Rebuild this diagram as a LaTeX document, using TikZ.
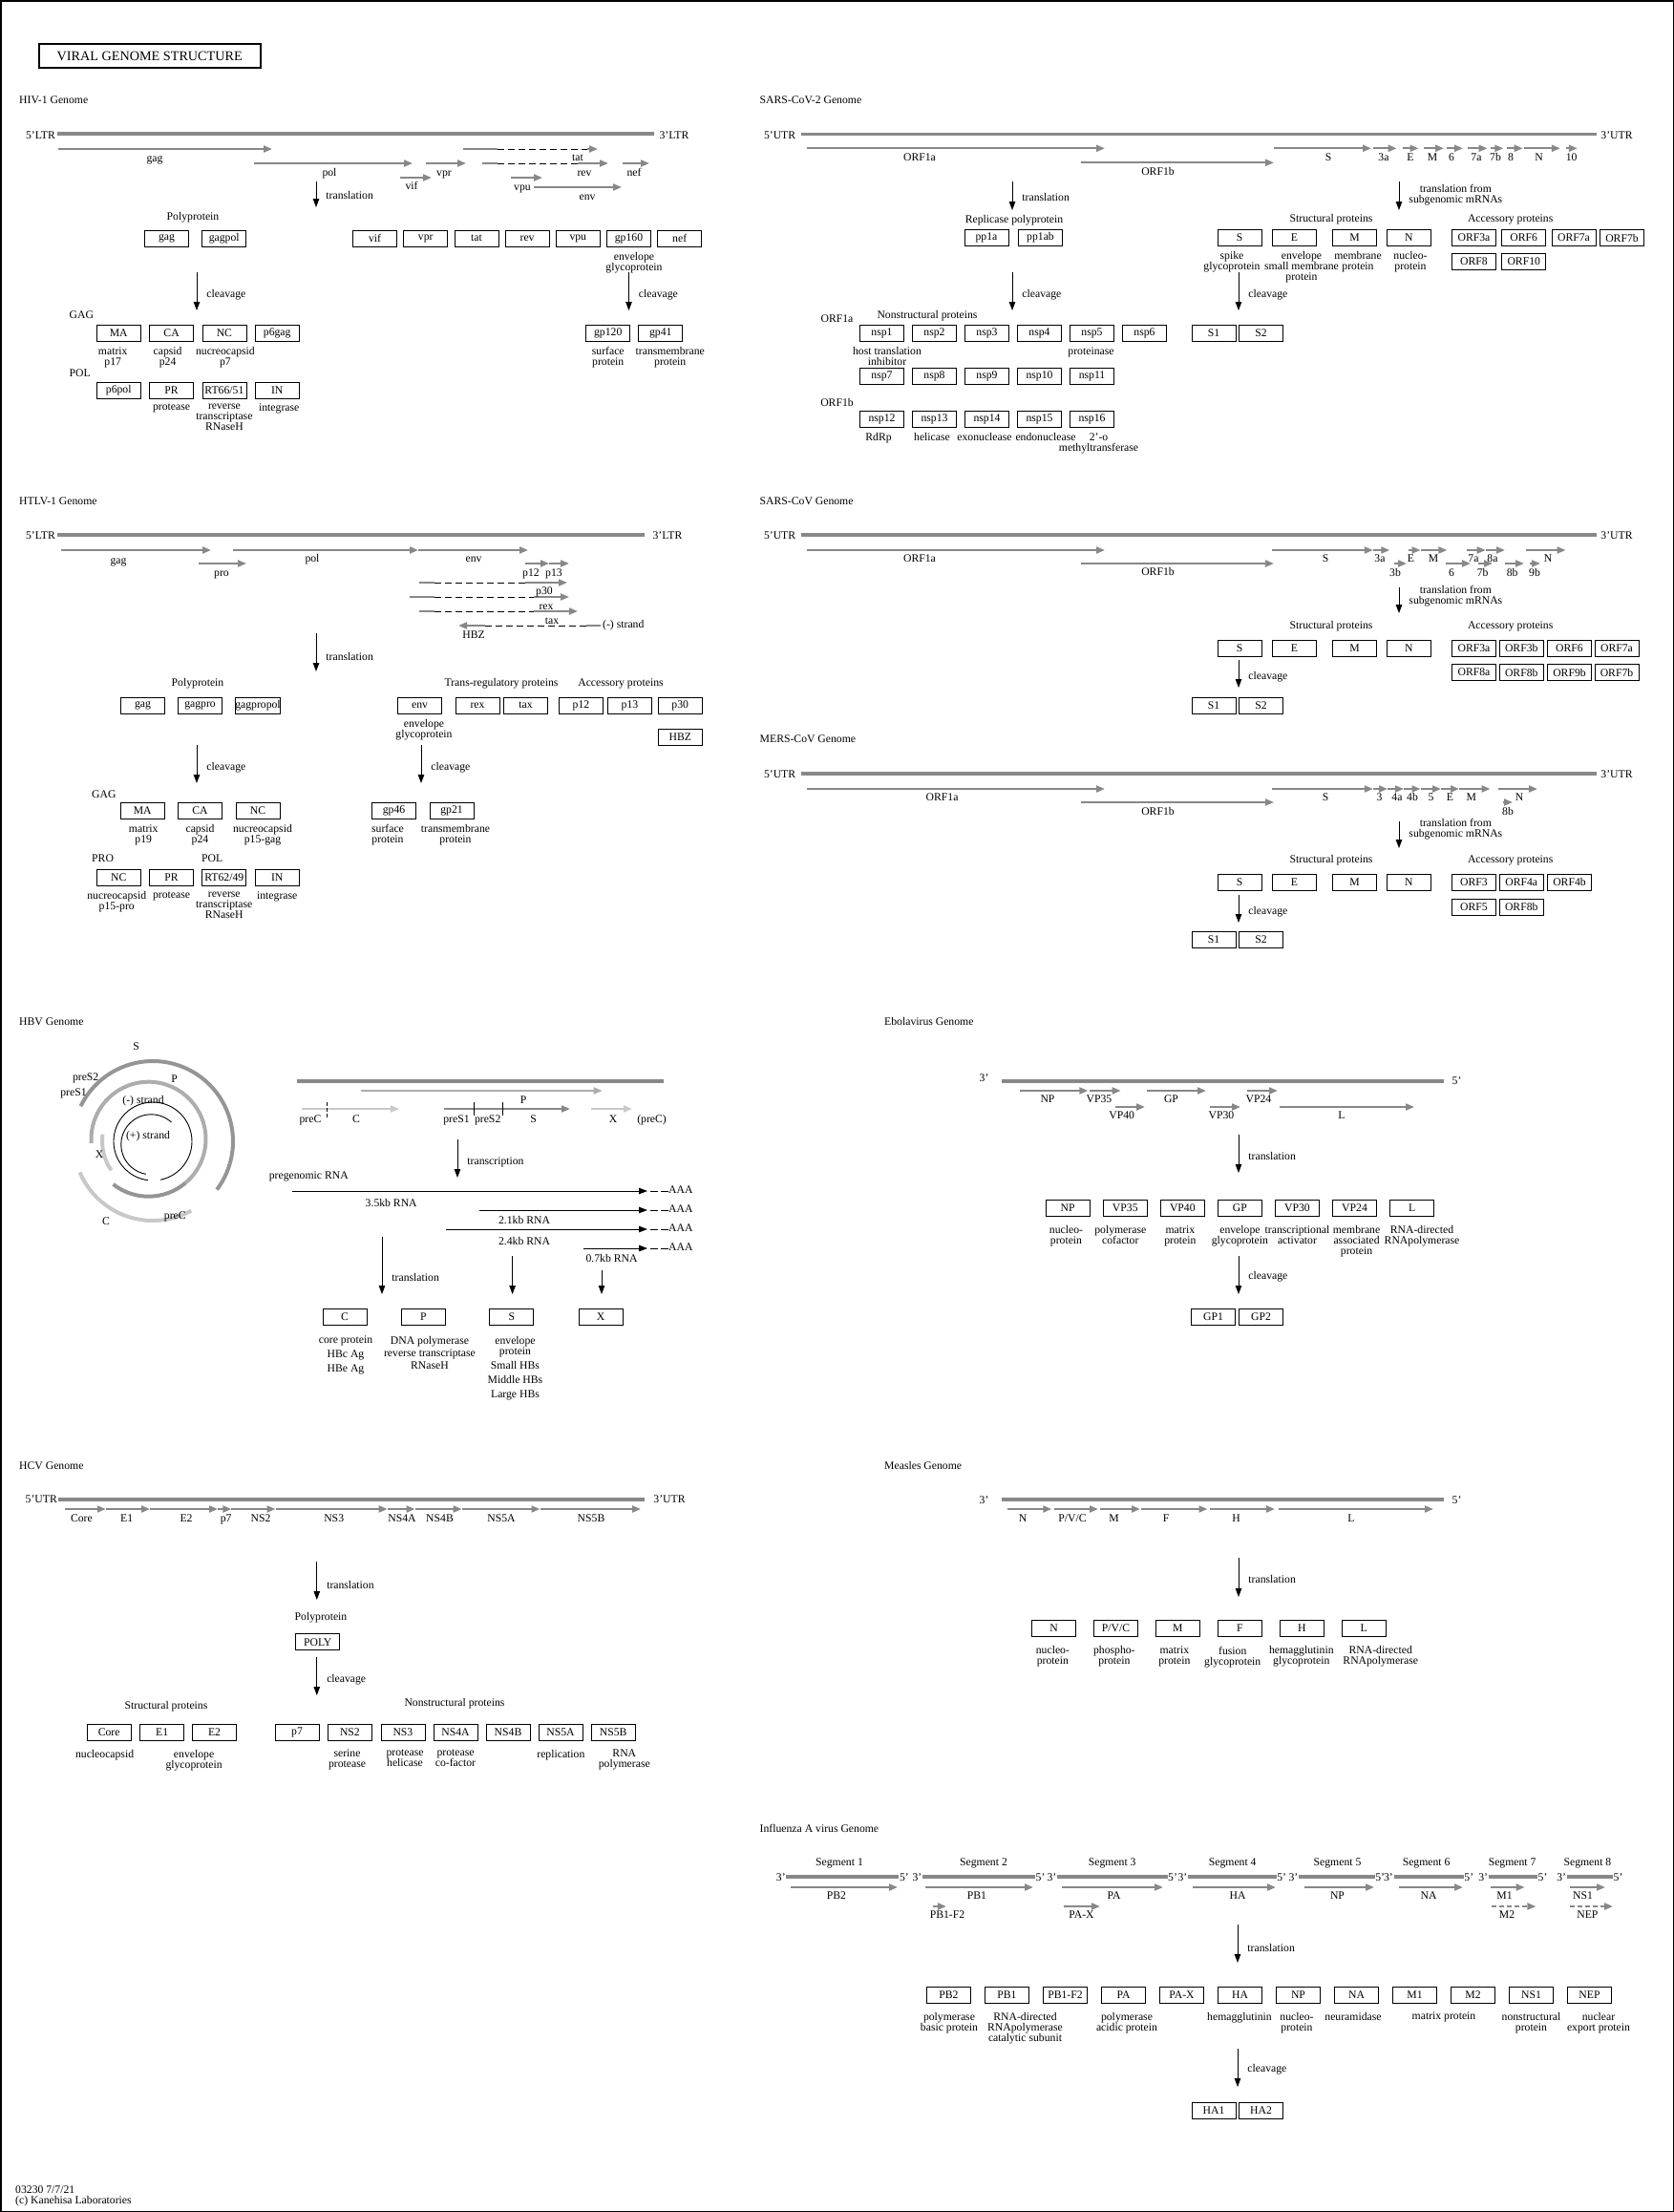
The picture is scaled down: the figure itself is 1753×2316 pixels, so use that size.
\documentclass[tikz,border=0pt]{standalone}
\usepackage{fontspec}
\setmainfont{Liberation Serif}
\usepackage{tikz}
\usetikzlibrary{arrows.meta,positioning,calc}
\definecolor{genc}{HTML}{888888}
\definecolor{lightc}{HTML}{C8C8C8}
\definecolor{midc}{HTML}{ADADAD}
\definecolor{darkc}{HTML}{959595}
\tikzset{
  >={Triangle[length=9pt,width=6.5pt]},
  genome/.style={draw=genc,line width=3.5pt},
  orf/.style={draw=genc,line width=2pt,-{Triangle[length=9pt,width=7pt]}},
  orfbar/.style={draw=genc,line width=2pt},
  orfdash/.style={orf,dash pattern=on 5pt off 3pt},
  splice/.style={draw=black,line width=0.9pt,dash pattern=on 7pt off 4pt},
  prot/.style={draw=black,line width=0.8pt,minimum width=46pt,minimum height=17pt,inner sep=0pt},
  flow/.style={->,line width=0.9pt},
  polya/.style={line width=0.9pt,dash pattern=on 8pt off 3pt},
  tag/.style={inner sep=0pt,text height=8pt,text depth=2.5pt},
  gtitle/.style={tag,anchor=west},
  desc/.style={inner sep=0pt,align=center},
  fl/.style={inner sep=0pt,anchor=west,xshift=10pt,align=center},
  ring/.style={line width=4pt},
  strand/.style={line width=0.9pt},
  tick/.style={line width=0.8pt},
}
\begin{document}
\begin{tikzpicture}[x=1pt,y=-1pt,font=\fontsize{11.7}{11}\selectfont]
  \useasboundingbox (0,0) rectangle (1753,2316);
  \draw[line width=1.5pt] (0.75,0.75) rectangle (1752.25,2315.25);
  \node[draw,line width=2pt,minimum width=231.5pt,minimum height=25.6pt,inner sep=0pt,font=\fontsize{14.2}{14}\selectfont] (title) at (156.75,58.5) {VIRAL GENOME STRUCTURE};

  % HIV-1
  \node[gtitle] (hivT) at (20,106) {HIV-1 Genome};
  \draw[genome] (60,140) -- (685,140);
  \node[tag] (hiv5) at (42.5,143) {5’LTR};
  \node[tag] (hiv3) at (706,143) {3’LTR};
  \foreach \ya/\xa/\xb in {156/61/285,171/266/432,186/419/452,171/446/488,156/615/626,171/605/637,171/652/680,186/535/568,196/559/651}
    \draw[orf] (\xa,\ya) -- (\xb,\ya);
  \foreach \ya/\xa/\xb in {156/485/521,171/505/521}
    \draw[orfbar] (\xa,\ya) -- (\xb,\ya);
  \foreach \ya/\xa/\xb in {156/521/615,171/521/605}
    \draw[splice] (\xa,\ya) -- (\xb,\ya);
  \foreach \x/\y/\lab [count=\i] in {162/167/gag,345/182/pol,431/196/vif,465/182/vpr,605/166/tat,612/182/rev,664/182/nef,547/197/vpu,615/207/env}
    \node[tag] (hivg\i) at (\x,\y) {\lab};
  \foreach \nm/\x/\ya/\yb/\ps/\lab in {hivA/331/190/217/0.55/translation,hivB/206/285/325/0.6/cleavage,hivC/658.5/285/325/0.6/cleavage}{
    \coordinate (\nm0) at (\x,\ya);
    \coordinate (\nm1) at (\x,\yb);
    \draw[flow] (\nm0) -- (\nm1) node[fl,pos=\ps] (\nm l) {\lab};
  }
  \node[tag] (hivPP) at (202,228) {Polyprotein};
  \foreach \x/\lab [count=\i] in {174.5/gag,234.75/gagpol}
    \node[prot] (hivpp\i) at (\x,249.5) {\lab};
  \foreach \lab [count=\i] in {vif,vpr,tat,rev,vpu,gp160,nef}
    \node[prot] (hivac\i) at (392.5+53.2*\i-53.2,249.5) {\lab};
  \node[desc,below=5.5pt of hivac6,xshift=5.5pt] (hivac6d) {envelope\\glycoprotein};
  \node[gtitle] (hivGAG) at (72.5,331) {GAG};
  \foreach \lab [count=\i] in {MA,CA,NC,p6gag}
    \node[prot] (hivga\i) at (124.25+55.33*\i-55.33,349) {\lab};
  \node[gtitle] (hivPOL) at (72.5,392) {POL};
  \foreach \lab [count=\i] in {p6pol,PR,{RT66/51},IN}
    \node[prot] (hivpo\i) at (124.25+55.33*\i-55.33,408.5) {\lab};
  \foreach \x/\lab [count=\i] in {636.75/gp120,691.75/gp41}
    \node[prot] (hivgp\i) at (\x,349) {\lab};
  \foreach \bx/\dx/\lab in {hivga1/-6/matrix\\p17,hivga2/-4/capsid\\p24,hivga3/1/nucreocapsid\\p7,hivpo2/0/protease,hivpo3/0/reverse\\transcriptase\\RNaseH,hivpo4/2/integrase,hivgp1/0/surface\\protein,hivgp2/10/transmembrane\\protein}
    \node[desc,below=5.5pt of \bx,xshift=\dx pt] (\bx d) {\lab};

  % SARS-CoV-2
  \node[gtitle] (sc2T) at (795.5,106) {SARS-CoV-2 Genome};
  \draw[genome] (839,140.5) -- (1672,140.5);
  \node[tag] (sc25) at (816.6,143) {5’UTR};
  \node[tag] (sc23) at (1693,143) {3’UTR};
  \foreach \ya/\xa/\xb in {155.3/845/1157,170.3/1132/1334,155.3/1334/1436,155.3/1438/1462.6,155.3/1469/1485.5,155.3/1490.5/1512,155.3/1515/1532,155.3/1537/1557.5,155.3/1560.7/1574.3,155.3/1577.5/1594.7,155.3/1596/1633.8,155.3/1639.5/1651.8}
    \draw[orf] (\xa,\ya) -- (\xb,\ya);
  \foreach \x/\y/\lab [count=\i] in {963/166/ORF1a,1212.5/181/ORF1b,1391/166/S,1449/166/3a,1477/166/E,1500/166/M,1520/166/6,1546/166/7a,1566/166/7b,1582/166/8,1611.5/166/N,1645.6/166/10}
    \node[tag] (sc2g\i) at (\x,\y) {\lab};
  \foreach \nm/\x/\ya/\yb/\ps/\lab in {sc2A/1060/190/220/0.55/translation,sc2B/1465/190/220/0.48/{translation from\\subgenomic mRNAs},sc2C/1060/285/325/0.6/cleavage,sc2D/1297/285/325/0.6/cleavage}{
    \coordinate (\nm0) at (\x,\ya);
    \coordinate (\nm1) at (\x,\yb);
    \draw[flow] (\nm0) -- (\nm1) node[fl,pos=\ps] (\nm l) {\lab};
  }
  \node[tag] (sc2RP) at (1062,231) {Replicase polyprotein};
  \foreach \x/\lab [count=\i] in {1033/pp1a,1089.5/pp1ab}
    \node[prot] (sc2pp\i) at (\x,249) {\lab};
  \node[tag] (sc2SP) at (1394,230) {Structural proteins};
  \foreach \x/\lab [count=\i] in {1298/S,1355.5/E,1418.5/M,1475.3/N}
    \node[prot] (sc2st\i) at (\x,249) {\lab};
  \node[tag] (sc2AP) at (1581.7,230) {Accessory proteins};
  \foreach \x/\y/\lab [count=\i] in {1543.5/249/ORF3a,1595.75/249/ORF6,1648/249/ORF7a,1698.5/249/ORF7b,1543.5/274/ORF8,1595.75/274/ORF10}
    \node[prot] (sc2ac\i) at (\x,\y) {\lab};
  \node[tag] (sc2o1) at (876.5,335) {ORF1a};
  \node[tag] (sc2NS) at (971,331) {Nonstructural proteins};
  \foreach \i in {1,...,6}
    \node[prot] (nsp\i) at (923.5+55*\i-55,349) {nsp\i};
  \foreach \i in {7,...,11}
    \node[prot] (nsp\i) at (923.5+55*\i-385,394) {nsp\i};
  \node[tag] (sc2o2) at (876.5,422.7) {ORF1b};
  \foreach \i in {12,...,16}
    \node[prot] (nsp\i) at (923.5+55*\i-660,439) {nsp\i};
  \foreach \x/\lab [count=\i] in {1271/S1,1320.5/S2}
    \node[prot] (sc2s\i) at (\x,349) {\lab};
  \foreach \bx/\dx/\lab in {sc2st1/-8/spike\\glycoprotein,sc2st2/7.5/envelope\\small membrane\\protein,sc2st3/3.5/membrane\\protein,sc2st4/1.7/nucleo-\\protein,nsp1/5.5/host translation\\inhibitor,nsp5/-1/proteinase,nsp12/-3.5/RdRp,nsp13/-2.5/helicase,nsp14/-2.5/exonuclease,nsp15/6.5/endonuclease,nsp16/7/2’-o\\methyltransferase}
    \node[desc,below=5.5pt of \bx,xshift=\dx pt] (\bx d) {\lab};

  % SARS-CoV
  \node[gtitle] (scvT) at (795.5,526) {SARS-CoV Genome};
  \draw[genome] (839,560) -- (1672,560);
  \node[tag] (scv5) at (816.6,562) {5’UTR};
  \node[tag] (scv3) at (1693,562) {3’UTR};
  \foreach \ya/\xa/\xb in {576/845/1157,590/1132/1334,576/1332/1437.8,576/1437.8/1455.3,576/1475/1487.5,576/1487.5/1515.4,576/1536/1555.7,576/1555.7/1576,576/1598/1639.5,590/1459.5/1473,590/1513.5/1540,590/1547.6/1563,590/1576/1596,590/1602/1613}
    \draw[orf] (\xa,\ya) -- (\xb,\ya);
  \foreach \x/\y/\lab [count=\i] in {963/586/ORF1a,1212.5/600/ORF1b,1388/586/S,1445/586/3a,1477.5/586/E,1501/586/M,1543/586/7a,1563/586/8a,1621/586/N,1461/601/3b,1520/601/6,1552.6/601/7b,1583.6/601/8b,1607/601/9b}
    \node[tag] (scvg\i) at (\x,\y) {\lab};
  \foreach \nm/\x/\ya/\yb/\ps/\lab in {scvA/1465/615/642/0.34/{translation from\\subgenomic mRNAs},scvB/1297/691/720/0.6/cleavage}{
    \coordinate (\nm0) at (\x,\ya);
    \coordinate (\nm1) at (\x,\yb);
    \draw[flow] (\nm0) -- (\nm1) node[fl,pos=\ps] (\nm l) {\lab};
  }
  \node[tag] (scvSP) at (1394,656) {Structural proteins};
  \node[tag] (scvAP) at (1581.7,656) {Accessory proteins};
  \foreach \x/\lab [count=\i] in {1298/S,1355.5/E,1418.5/M,1475.3/N}
    \node[prot] (scvst\i) at (\x,678.5) {\lab};
  \foreach \x/\y/\lab [count=\i] in {1543.5/678.5/ORF3a,1593.25/678.5/ORF3b,1643.5/678.5/ORF6,1693/678.5/ORF7a,1543.5/704/ORF8a,1593.25/704/ORF8b,1643.5/704/ORF9b,1693/704/ORF7b}
    \node[prot] (scvac\i) at (\x,\y) {\lab};
  \foreach \x/\lab [count=\i] in {1271/S1,1320.5/S2}
    \node[prot] (scvs\i) at (\x,738.5) {\lab};

  % MERS-CoV
  \node[gtitle] (mrsT) at (795.5,775) {MERS-CoV Genome};
  \draw[genome] (839,810) -- (1672,810);
  \node[tag] (mrs5) at (816.6,812) {5’UTR};
  \node[tag] (mrs3) at (1693,812) {3’UTR};
  \foreach \ya/\xa/\xb in {826/845/1157,840/1132/1334,826/1332/1437.8,826/1437.8/1453,826/1453/1470,826/1470/1487.5,826/1487.5/1509,826/1509/1528,826/1528/1560.6,826/1569/1610,840/1574/1584}
    \draw[orf] (\xa,\ya) -- (\xb,\ya);
  \foreach \x/\y/\lab [count=\i] in {986.6/836/ORF1a,1212.5/851/ORF1b,1388/836/S,1444.6/836/3,1463/836/4a,1479/836/4b,1498.6/836/5,1518.4/836/E,1540.8/836/M,1591/836/N,1579/851/8b}
    \node[tag] (mrsg\i) at (\x,\y) {\lab};
  \foreach \nm/\x/\ya/\yb/\ps/\lab in {mrsA/1465/860/888/0.3/{translation from\\subgenomic mRNAs},mrsB/1297/937/966/0.6/cleavage}{
    \coordinate (\nm0) at (\x,\ya);
    \coordinate (\nm1) at (\x,\yb);
    \draw[flow] (\nm0) -- (\nm1) node[fl,pos=\ps] (\nm l) {\lab};
  }
  \node[tag] (mrsSP) at (1394,901) {Structural proteins};
  \node[tag] (mrsAP) at (1581.7,901) {Accessory proteins};
  \foreach \x/\lab [count=\i] in {1298/S,1355.5/E,1418.5/M,1475.3/N}
    \node[prot] (mrsst\i) at (\x,923.5) {\lab};
  \foreach \x/\y/\lab [count=\i] in {1543.5/923.5/ORF3,1593.25/923.5/ORF4a,1643.5/923.5/ORF4b,1543.5/949.5/ORF5,1593.25/949.5/ORF8b}
    \node[prot] (mrsac\i) at (\x,\y) {\lab};
  \foreach \x/\lab [count=\i] in {1271/S1,1320.5/S2}
    \node[prot] (mrss\i) at (\x,983.5) {\lab};

  % HTLV-1
  \node[gtitle] (htlT) at (20,526) {HTLV-1 Genome};
  \draw[genome] (60,560) -- (675,560);
  \node[tag] (htl5) at (42.5,562) {5’LTR};
  \node[tag] (htl3) at (699,562) {3’LTR};
  \foreach \ya/\xa/\xb in {576/64/221,590/208/258,576/244/438,576/438/553,590/550/575,590/575/596,610/550/594,625/558.5/596,640/558.5/605,655/507.5/480}
    \draw[orf] (\xa,\ya) -- (\xb,\ya);
  \foreach \ya/\xa/\xb in {610/439/455,625/428.5/455,640/438.5/455,655/614/629}
    \draw[orfbar] (\xa,\ya) -- (\xb,\ya);
  \foreach \ya/\xa/\xb in {610/455/550,625/455/558.5,640/455/558.5,655/507.5/614}
    \draw[splice] (\xa,\ya) -- (\xb,\ya);
  \foreach \x/\y/\lab [count=\i] in {124/588/gag,232/601/pro,327/586/pol,496/586/env,556/601/p12,580/601/p13,570/620/p30,572/636/rex,578/651/tax,496/666/HBZ}
    \node[tag] (htlg\i) at (\x,\y) {\lab};
  \node[tag,anchor=west] (htlms) at (631,655) {(-) strand};
  \foreach \nm/\x/\ya/\yb/\ps/\lab in {htlA/331/663/703/0.6/translation,htlB/206/780/820/0.6/cleavage,htlC/441/780/820/0.6/cleavage}{
    \coordinate (\nm0) at (\x,\ya);
    \coordinate (\nm1) at (\x,\yb);
    \draw[flow] (\nm0) -- (\nm1) node[fl,pos=\ps] (\nm l) {\lab};
  }
  \node[tag] (htlPP) at (207,716) {Polyprotein};
  \foreach \x/\lab [count=\i] in {149.5/gag,209.5/gagpro,270/gagpropol}
    \node[prot] (htlpp\i) at (\x,738.5) {\lab};
  \node[tag] (htlTR) at (525,716) {Trans-regulatory proteins};
  \node[tag] (htlAP) at (650,716) {Accessory proteins};
  \foreach \x/\y/\lab [count=\i] in {439.5/738.5/env,500/738.5/rex,550.5/738.5/tax,608.5/738.5/p12,659.5/738.5/p13,712.25/738.5/p30,712.25/771.5/HBZ}
    \node[prot] (htlac\i) at (\x,\y) {\lab};
  \node[gtitle] (htlGAG) at (96,833) {GAG};
  \foreach \x/\lab [count=\i] in {149.25/MA,209.5/CA,270/NC}
    \node[prot] (htlga\i) at (\x,849) {\lab};
  \foreach \x/\lab [count=\i] in {412.5/gp46,473/gp21}
    \node[prot] (htlgp\i) at (\x,849) {\lab};
  \node[gtitle] (htlPRO) at (96,900) {PRO};
  \node[gtitle] (htlPOL) at (211,900) {POL};
  \foreach \x/\lab [count=\i] in {124.25/NC,179.5/PR,234.75/{RT62/49},290.25/IN}
    \node[prot] (htlpo\i) at (\x,919) {\lab};
  \foreach \bx/\dx/\lab in {htlac1/4.5/envelope\\glycoprotein,htlga1/1/matrix\\p19,htlga2/0/capsid\\p24,htlga3/5/nucreocapsid\\p15-gag,htlgp1/-6.5/surface\\protein,htlgp2/4/transmembrane\\protein,htlpo1/-2/nucreocapsid\\p15-pro,htlpo2/0/protease,htlpo3/0/reverse\\transcriptase\\RNaseH,htlpo4/0/integrase}
    \node[desc,below=5.5pt of \bx,xshift=\dx pt] (\bx d) {\lab};

  % HBV
  \node[gtitle] (hbvT) at (20,1071) {HBV Genome};
  \begin{scope}[shift={(160,1195)},yscale=-1]
    \draw[ring,draw=darkc] (154:84) arc[start angle=154,end angle=-37,radius=84];
    \draw[ring,draw=lightc] (203:83) arc[start angle=203,end angle=299,radius=83];
    \draw[ring,draw=midc,shift={(-4.5,2.3)}] (184:60) arc[start angle=184,end angle=-50,radius=60];
    \draw[ring,draw=darkc,shift={(-4.5,2.3)}] (-50:60) arc[start angle=-50,end angle=-128,radius=60];
    \draw[ring,draw=lightc] (172:53) arc[start angle=172,end angle=215,radius=53];
    \draw[strand] (-79:41) arc[start angle=-79,end angle=263,radius=41];
    \draw[strand,shift={(-1.7,-3.3)}] (48:31.5) arc[start angle=48,end angle=260,radius=31.5];
  \end{scope}
  \foreach \x/\y/\lab [count=\i] in {142.7/1096.7/S,182.7/1130.7/P,89.7/1129/preS2,77/1144.3/preS1,150/1152.7/{(-) strand},155/1190/{(+) strand},104/1210/X,111/1279.3/C,183.3/1273.3/preC}
    \node[tag] (hbvc\i) at (\x,\y) {\lab};
  \draw[genome] (310.5,1132) -- (695.3,1132);
  \draw[orf,draw=midc] (378,1142) -- (630.7,1142);
  \draw[orf,draw=lightc] (316,1161) -- (418,1161);
  \draw[orf] (464.5,1161) -- (597,1161);
  \draw[orf,draw=lightc] (619,1161) -- (662,1161);
  \draw[tick,dash pattern=on 4pt off 2pt] (342,1154) -- (342,1171);
  \draw[tick] (496,1154) -- (496,1168);
  \draw[tick] (526,1154) -- (526,1168);
  \foreach \x/\y/\lab [count=\i] in {548/1153/P,325/1173/preC,373/1173/C,478/1173/preS1,510.7/1173/preS2,558.6/1173/S,642/1173/X,682.6/1173/(preC)}
    \node[tag] (hbvm\i) at (\x,\y) {\lab};
  \foreach \nm/\x/\ya/\yb/\ps/\lab in {hbvA/479/1193/1233/0.6/transcription,hbvB/400/1295/1355/0.7/translation}{
    \coordinate (\nm0) at (\x,\ya);
    \coordinate (\nm1) at (\x,\yb);
    \draw[flow] (\nm0) -- (\nm1) node[fl,pos=\ps] (\nm l) {\lab};
  }
  \foreach \nm/\x/\ya in {hbvC/536.6/1315,hbvD/630/1330}{
    \coordinate (\nm0) at (\x,\ya);
    \coordinate (\nm1) at (\x,1355);
    \draw[flow] (\nm0) -- (\nm1);
  }
  \node[tag] (hbvpg) at (323.3,1232) {pregenomic RNA};
  \foreach \i/\xa/\y in {1/305.8/1247,2/502/1267,3/467/1287,4/610.5/1307}{
    \coordinate (rnaS\i) at (\xa,\y);
    \coordinate (rnaE\i) at (678,\y);
    \draw[flow] (rnaS\i) -- (rnaE\i);
    \node[tag,anchor=west] (aaa\i) at (700,\y) {AAA};
    \draw[polya] ([xshift=3pt]rnaE\i) -- (aaa\i.west);
  }
  \foreach \x/\y/\lab [count=\i] in {409.7/1261/3.5kb RNA,549/1279/2.1kb RNA,549/1301/2.4kb RNA,640.5/1319/0.7kb RNA}
    \node[tag] (hbvr\i) at (\x,\y) {\lab};
  \foreach \x/\lab [count=\i] in {361/C,443.3/P,535.8/S,629/X}
    \node[prot] (hbvp\i) at (\x,1379) {\lab};
  \foreach \bx/\dx/\lab in {hbvp1/1/core protein\\[4pt]HBc Ag\\[4pt]HBe Ag,hbvp2/6.7/DNA polymerase\\[2pt]reverse transcriptase\\[2pt]RNaseH,hbvp3/3.7/envelope\\protein\\[4pt]Small HBs\\[4pt]Middle HBs\\[4pt]Large HBs}
    \node[desc,below=11pt of \bx,xshift=\dx pt] (\bx d) {\lab};

  % Ebolavirus
  \node[gtitle] (ebT) at (926,1071) {Ebolavirus Genome};
  \draw[genome] (1048.5,1132) -- (1512,1132);
  \node[tag] (eb3) at (1030.6,1130) {3’};
  \node[tag] (eb5) at (1525.6,1133) {5’};
  \foreach \ya/\xa/\xb in {1142/1067.6/1139.4,1142/1141/1173.7,1142/1201/1263,1142/1306/1338,1159/1167.7/1199,1159/1267/1299,1159/1339.6/1481}
    \draw[orf] (\xa,\ya) -- (\xb,\ya);
  \foreach \x/\y/\lab [count=\i] in {1097/1152/NP,1151/1152/VP35,1226.5/1152/GP,1318/1152/VP24,1174.7/1169/VP40,1279/1169/VP30,1405/1169/L}
    \node[tag] (ebg\i) at (\x,\y) {\lab};
  \foreach \nm/\x/\ya/\yb/\ps/\lab in {ebA/1297/1188/1228/0.55/translation,ebB/1297/1315/1355/0.55/cleavage}{
    \coordinate (\nm0) at (\x,\ya);
    \coordinate (\nm1) at (\x,\yb);
    \draw[flow] (\nm0) -- (\nm1) node[fl,pos=\ps] (\nm l) {\lab};
  }
  \foreach \lab [count=\i] in {NP,VP35,VP40,GP,VP30,VP24,L}
    \node[prot] (ebp\i) at (1118.2+60.07*\i-60.07,1264.7) {\lab};
  \foreach \bx/\dx/\lab in {ebp1/-1.7/nucleo-\\protein,ebp2/-5/polymerase\\cofactor,ebp3/-2.5/matrix\\protein,ebp4/0/envelope\\glycoprotein,ebp5/0/transcriptional\\activator,ebp6/2/membrane\\associated\\protein,ebp7/10.4/RNA-directed\\RNApolymerase}
    \node[desc,below=10pt of \bx,xshift=\dx pt] (\bx d) {\lab};
  \foreach \x/\lab [count=\i] in {1270.5/GP1,1320.5/GP2}
    \node[prot] (ebgp\i) at (\x,1379) {\lab};

  % HCV
  \node[gtitle] (hcvT) at (20,1536) {HCV Genome};
  \draw[genome] (60.6,1570) -- (675,1570);
  \node[tag] (hcv5) at (43.3,1571) {5’UTR};
  \node[tag] (hcv3) at (701,1571) {3’UTR};
  \foreach \xa/\xb in {68/110.8,110.8/157,157/228,228/242.4,242.4/288.5,288.5/405.7,405.7/434.5,434.5/483.6,483.6/565.5,565.5/671}
    \draw[orf] (\xa,1580) -- (\xb,1580);
  \foreach \x/\lab [count=\i] in {85.4/Core,132.7/E1,195/E2,236.6/p7,273/NS2,349.7/NS3,421/NS4A,460.5/NS4B,525/NS5A,619/NS5B}
    \node[tag] (hcvg\i) at (\x,1591) {\lab};
  \foreach \nm/\x/\ya/\yb/\ps/\lab in {hcvA/331.8/1635/1675/0.62/translation,hcvB/331.8/1735/1775/0.58/cleavage}{
    \coordinate (\nm0) at (\x,\ya);
    \coordinate (\nm1) at (\x,\yb);
    \draw[flow] (\nm0) -- (\nm1) node[fl,pos=\ps] (\nm l) {\lab};
  }
  \node[tag] (hcvPP) at (336,1694) {Polyprotein};
  \node[prot] (hcvpoly) at (332.75,1719.2) {POLY};
  \node[tag] (hcvSP) at (174,1787) {Structural proteins};
  \node[tag] (hcvNS) at (476,1784) {Nonstructural proteins};
  \foreach \x/\lab [count=\i] in {114.2/Core,169.7/E1,224.5/E2,311/p7,366.4/NS2,421.9/NS3,477/NS4A,532/NS4B,587/NS5A,642.2/NS5B}
    \node[prot] (hcvp\i) at (\x,1814) {\lab};
  \foreach \bx/\dx/\lab in {hcvp1/-4.6/nucleocapsid,hcvp5/-2.9/serine\\protease,hcvp6/2.1/protease\\helicase,hcvp7/0/protease\\co-factor,hcvp9/0.4/replication,hcvp10/11.6/RNA\\polymerase}
    \node[desc,below=9pt of \bx,xshift=\dx pt] (\bx d) {\lab};
  \node[desc,anchor=north,xshift=6pt,yshift=-9pt] (hcvp23d) at ($(hcvp2.south)!0.5!(hcvp3.south)$) {envelope\\glycoprotein};

  % Measles
  \node[gtitle] (msT) at (926,1536) {Measles Genome};
  \draw[genome] (1048.5,1570) -- (1512,1570);
  \node[tag] (ms3) at (1030.6,1572) {3’};
  \node[tag] (ms5) at (1525.6,1572) {5’};
  \foreach \xa/\xb in {1055/1101.3,1104/1150,1152/1194,1195/1264.5,1267/1335,1339/1501}
    \draw[orf] (\xa,1580) -- (\xb,1580);
  \foreach \x/\lab [count=\i] in {1071/N,1123/{P/V/C},1166.6/M,1221/F,1294.5/H,1415/L}
    \node[tag] (msg\i) at (\x,1591) {\lab};
  \foreach \nm/\x/\ya/\yb/\ps/\lab in {msA/1297/1631/1672/0.55/translation}{
    \coordinate (\nm0) at (\x,\ya);
    \coordinate (\nm1) at (\x,\yb);
    \draw[flow] (\nm0) -- (\nm1) node[fl,pos=\ps] (\nm l) {\lab};
  }
  \foreach \lab [count=\i] in {N,{P/V/C},M,F,H,L}
    \node[prot] (msp\i) at (1103.5+64.95*\i-64.95,1704.7) {\lab};
  \foreach \bx/\dx/\lab in {msp1/-1.1/nucleo-\\protein,msp2/-1.6/phospho-\\protein,msp3/-3.5/matrix\\protein,msp4/-7.6/fusion\\glycoprotein,msp5/-0.5/hemagglutinin\\glycoprotein,msp6/17.5/RNA-directed\\RNApolymerase}
    \node[desc,below=10pt of \bx,xshift=\dx pt] (\bx d) {\lab};

  % Influenza A
  \node[gtitle] (flT) at (795.5,1916) {Influenza A virus Genome};
  \foreach \x [count=\i] in {879,1030,1164.7,1290.7,1400.5,1493.6,1583.6,1662.4}
    \node[tag] (seg\i) at (\x,1951) {Segment \i};
  \foreach \xa/\xb [count=\i] in {823.4/941.3,966/1084,1107/1222.5,1244/1336.6,1360/1439.6,1459.5/1532.7,1558.8/1610,1640.7/1689}{
    \draw[genome] (\xa,1965) -- (\xb,1965);
    \node[tag,anchor=east,inner xsep=0.5pt] (segl\i) at (\xa,1967) {3’};
    \node[tag,anchor=west,inner xsep=0.5pt] (segr\i) at (\xb,1967) {5’};
  }
  \foreach \ya/\xa/\xb in {1976/827.8/940,1976/969/1082,1976/1112/1218,1976/1249/1336,1976/1366.4/1439,1976/1464.5/1532,1976/1560.6/1596.6,1976/1643.8/1681,1996/977/991,1996/1114/1152}
    \draw[orf] (\xa,\ya) -- (\xb,\ya);
  \foreach \xa/\xb in {1562/1608.4,1643.8/1689}
    \draw[orfdash] (\xa,1996) -- (\xb,1996);
  \foreach \x/\y/\lab [count=\i] in {876/1986/PB2,1023/1986/PB1,1166.6/1986/PA,1296/1986/HA,1400.5/1986/NP,1496/1986/NA,1575.5/1986/M1,1657.5/1986/NS1,992/2006/PB1-F2,1132.5/2006/PA-X,1578/2006/M2,1662.4/2006/NEP}
    \node[tag] (flg\i) at (\x,\y) {\lab};
  \foreach \nm/\x/\ya/\yb/\ps/\lab in {flA/1296/2015/2055/0.62/translation,flB/1296/2145/2185/0.55/cleavage}{
    \coordinate (\nm0) at (\x,\ya);
    \coordinate (\nm1) at (\x,\yb);
    \draw[flow] (\nm0) -- (\nm1) node[fl,pos=\ps] (\nm l) {\lab};
  }
  \foreach \lab [count=\i] in {PB2,PB1,PB1-F2,PA,PA-X,HA,NP,NA,M1,M2,NS1,NEP}
    \node[prot] (flp\i) at (993.5+61*\i-61,2088.8) {\lab};
  \foreach \bx/\dx/\lab in {flp1/0.5/polymerase\\basic protein,flp2/19/RNA-directed\\RNApolymerase\\catalytic subunit,flp4/3.5/polymerase\\acidic protein,flp6/-0.5/hemagglutinin,flp7/-1.5/nucleo-\\protein,flp8/-3.5/neuramidase,flp11/0/nonstructural\\protein,flp12/9.5/nuclear\\export protein}
    \node[desc,below=9pt of \bx,xshift=\dx pt] (\bx d) {\lab};
  \node[desc,anchor=north,yshift=-9pt] (flp910d) at ($(flp9.south)!0.5!(flp10.south)$) {matrix protein};
  \foreach \x/\lab [count=\i] in {1271/HA1,1320.5/HA2}
    \node[prot] (flha\i) at (\x,2210) {\lab};

  % footer
  \node[inner sep=0pt,anchor=west,align=left] (foot) at (16,2299.5) {03230 7/7/21\\(c) Kanehisa Laboratories};
\end{tikzpicture}
\end{document}
